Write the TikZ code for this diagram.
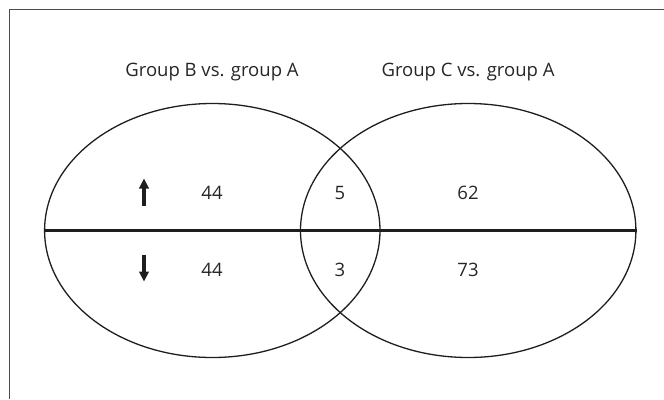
\documentclass[tikz,border=0pt]{standalone}
\usepackage{fontspec}
\setmainfont{Open Sans}
\usetikzlibrary{shapes.geometric,arrows.meta}
\definecolor{txt}{HTML}{262626}
\definecolor{ln}{HTML}{1E1E1E}
\tikzset{
  venn/.style={ellipse, draw=ln, line width=1.3pt, minimum width=335.4pt, minimum height=254pt, inner sep=0pt},
  lbl/.style={text=txt, font=\fontsize{18.5}{20}\selectfont, inner sep=0pt, anchor=center},
  updown/.style={draw=ln, line width=3.6pt, -{Triangle[length=10pt,width=9.5pt]}},
  frameline/.style={draw=black!70, line width=1.4pt}
}
\begin{document}
\begin{tikzpicture}[x=1pt,y=-1pt]
\useasboundingbox (0,0) rectangle (664,399);
\draw[frameline] (664,9.5) -- (9.5,9.5) -- (9.5,399);
\node[venn] (A) at (212.3,230.5) {};
\node[venn] (C) at (468.2,230.5) {};
\draw[draw=ln, line width=3pt] (A.west) -- (C.east);
\node[lbl] (tA) at (212,72) {Group B vs. group A};
\node[lbl] (tC) at (468,72) {Group C vs. group A};
\node[lbl] (n1) at (212,193) {44};
\node[lbl] (n2) at (340,193) {5};
\node[lbl] (n3) at (468,193) {62};
\node[lbl] (n4) at (212,270) {44};
\node[lbl] (n5) at (340,270) {3};
\node[lbl] (n6) at (468,270) {73};
\coordinate (u1) at (144,206);
\coordinate (u2) at (144,178.5);
\coordinate (d1) at (144,254.5);
\coordinate (d2) at (144,281.5);
\draw[updown] (u1) -- (u2);
\draw[updown] (d1) -- (d2);
\end{tikzpicture}
\end{document}
